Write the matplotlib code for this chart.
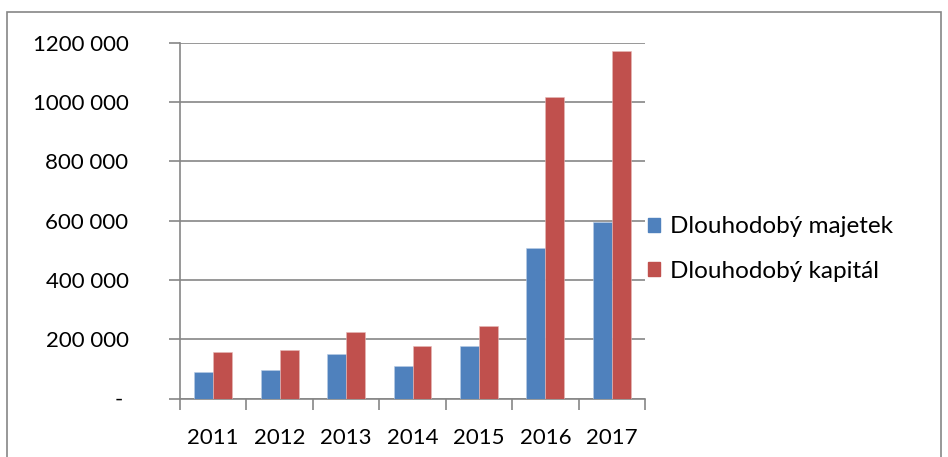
import matplotlib.pyplot as plt
import numpy as np
from matplotlib.patches import Patch, Rectangle

# data
years = ["2011", "2012", "2013", "2014", "2015", "2016", "2017"]
majetek = [90000, 97000, 151000, 110000, 178000, 506000, 596000]
kapital = [158000, 164000, 225000, 178000, 245000, 1016000, 1171000]
ytick_values = [0, 200000, 400000, 600000, 800000, 1000000, 1200000]
ytick_labels = ["- ", "200 000", "400 000", "600 000", "800 000", "1000 000", "1200 000"]

blue = "#4F81BD"
red = "#C0504D"
grey = "#868686"

plt.rcParams['font.family'] = ['Lato', 'DejaVu Sans']

fig = plt.figure(figsize=(9.48, 4.57), dpi=100)
fig.patch.set_facecolor("white")

# outer chart border
fig.patches.append(Rectangle((7 / 948, -0.05), 934 / 948, 1.05 - 12 / 457,
                             transform=fig.transFigure, fill=False,
                             edgecolor=grey, linewidth=1.2))

ax = fig.add_axes([180 / 948, 58.5 / 457, 465 / 948, 355.8 / 457])

x = np.arange(len(years))
w = 0.285
ax.bar(x - w / 2, majetek, w, color=blue, edgecolor="#B9CDE5", linewidth=0.4, zorder=3,
       label="Dlouhodobý majetek")
ax.bar(x + w / 2, kapital, w, color=red, edgecolor="#E6B9B8", linewidth=0.4, zorder=3,
       label="Dlouhodobý kapitál")

ax.set_xlim(-0.5, len(years) - 0.5)
ax.set_ylim(0, 1200000)

ax.set_yticks(ytick_values)
ax.set_yticklabels(ytick_labels)
ax.set_xticks(np.arange(-0.5, len(years), 1.0))
ax.set_xticklabels([])
ax.set_xticks(x, minor=True)
ax.set_xticklabels(years, minor=True)

ax.tick_params(axis="y", which="major", direction="out", length=8, width=1.2,
               color=grey, pad=29, labelsize=16)
ax.tick_params(axis="x", which="major", direction="out", length=8, width=1.2, color=grey)
ax.tick_params(axis="x", which="minor", length=0, pad=21, labelsize=16)

ax.grid(axis="y", color=grey, linewidth=1.2, zorder=0)
for s in ["top", "right"]:
    ax.spines[s].set_visible(False)
ax.spines["left"].set_color(grey)
ax.spines["bottom"].set_color(grey)
ax.spines["left"].set_linewidth(1.2)
ax.spines["bottom"].set_linewidth(1.2)

handles = [Patch(facecolor=blue, edgecolor=blue), Patch(facecolor=red, edgecolor=red)]
fig.legend(handles, ["Dlouhodobý majetek", "Dlouhodobý kapitál"],
           loc="center left", bbox_to_anchor=(626 / 948, 1 - 249 / 457),
           frameon=False, fontsize=17.5, handlelength=0.5, handleheight=0.5,
           handletextpad=0.4, labelspacing=0.95)

fig.savefig("out.png", dpi=100)
